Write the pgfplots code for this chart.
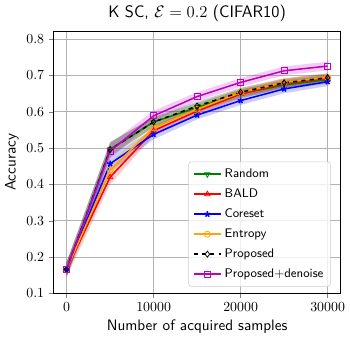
\documentclass[border=0pt,11pt]{standalone}
\usepackage{pgfplots}
\pgfplotsset{compat=1.18}
\definecolor{mgreen}{rgb}{0,0.5,0}
\definecolor{morange}{rgb}{1,0.647,0}
\definecolor{mmag}{rgb}{0.75,0,0.75}
\begin{document}
\begin{tikzpicture}
\begin{axis}[
  scale only axis, width=207pt, height=189pt,
  xmin=-1500, xmax=31500, ymin=0.1, ymax=0.822,
  xtick={0,10000,20000,30000}, ytick={0.1,0.2,0.3,0.4,0.5,0.6,0.7,0.8},
  scaled x ticks=false,
  x tick label style={/pgf/number format/.cd,set thousands separator={},fixed},
  y tick label style={/pgf/number format/.cd,fixed,fixed zerofill,precision=1},
  tick label style={font=\small},
  tick align=outside, tick pos=left, major tick length=3pt,
  grid=major, grid style={black!30, line width=0.5pt},
  axis line style={black, line width=0.6pt},
  title={K SC, $\mathcal{E}=0.2$ (CIFAR10)},
  title style={font=\sffamily\large, yshift=-3pt},
  xlabel={Number of acquired samples}, ylabel={Accuracy},
  label style={font=\sffamily},
  xlabel style={yshift=2pt}, ylabel style={yshift=-2pt},
  legend style={font=\sffamily\footnotesize, at={(0.965,0.025)}, anchor=south east,
    draw=black!20, rounded corners=2pt, fill=white, fill opacity=0.8, text opacity=1,
    row sep=2.5pt, inner sep=3pt},
  legend cell align=left,
  legend image code/.code={
    \draw[mark repeat=2,mark phase=2] plot coordinates {(0cm,0cm) (0.35cm,0cm) (0.7cm,0cm)};},
  every axis plot/.append style={line width=1.1pt, mark size=2.2pt},
]
% bands
\addplot[forget plot, draw=none, fill=mgreen, fill opacity=0.2] coordinates {(0,0.186) (5000,0.517) (10000,0.584) (15000,0.624) (20000,0.662) (25000,0.686) (30000,0.701) (30000,0.677) (25000,0.662) (20000,0.638) (15000,0.600) (10000,0.560) (5000,0.477) (0,0.146)};
\addplot[forget plot, draw=none, fill=red, fill opacity=0.2] coordinates {(0,0.186) (5000,0.44) (10000,0.562) (15000,0.614) (20000,0.661) (25000,0.690) (30000,0.704) (30000,0.680) (25000,0.666) (20000,0.637) (15000,0.590) (10000,0.534) (5000,0.40) (0,0.146)};
\addplot[forget plot, draw=none, fill=blue, fill opacity=0.2] coordinates {(0,0.186) (5000,0.477) (10000,0.552) (15000,0.603) (20000,0.643) (25000,0.675) (30000,0.695) (30000,0.671) (25000,0.651) (20000,0.619) (15000,0.579) (10000,0.524) (5000,0.437) (0,0.146)};
\addplot[forget plot, draw=none, fill=morange, fill opacity=0.2] coordinates {(0,0.186) (5000,0.46) (10000,0.570) (15000,0.619) (20000,0.665) (25000,0.693) (30000,0.707) (30000,0.683) (25000,0.669) (20000,0.641) (15000,0.595) (10000,0.542) (5000,0.42) (0,0.146)};
\addplot[forget plot, draw=none, fill=black, fill opacity=0.2] coordinates {(0,0.186) (5000,0.516) (10000,0.586) (15000,0.628) (20000,0.666) (25000,0.692) (30000,0.706) (30000,0.682) (25000,0.668) (20000,0.642) (15000,0.604) (10000,0.558) (5000,0.476) (0,0.146)};
\addplot[forget plot, draw=none, fill=mmag, fill opacity=0.2] coordinates {(0,0.186) (5000,0.512) (10000,0.603) (15000,0.654) (20000,0.693) (25000,0.725) (30000,0.738) (30000,0.714) (25000,0.701) (20000,0.669) (15000,0.630) (10000,0.575) (5000,0.472) (0,0.146)};
% means
\addplot[mgreen, mark=triangle, mark options={rotate=180, solid, fill=white, line width=0.55pt}] coordinates {(0,0.166) (5000,0.497) (10000,0.572) (15000,0.612) (20000,0.650) (25000,0.674) (30000,0.689)};
\addlegendentry{Random}
\addplot[red, mark=triangle, mark options={solid, fill=white, line width=0.55pt}] coordinates {(0,0.166) (5000,0.42) (10000,0.548) (15000,0.602) (20000,0.649) (25000,0.678) (30000,0.692)};
\addlegendentry{BALD}
\addplot[blue, mark=star, mark options={solid}] coordinates {(0,0.166) (5000,0.457) (10000,0.538) (15000,0.591) (20000,0.631) (25000,0.663) (30000,0.683)};
\addlegendentry{Coreset}
\addplot[morange, mark=o, mark options={solid, fill=white, line width=0.55pt}] coordinates {(0,0.166) (5000,0.44) (10000,0.556) (15000,0.607) (20000,0.653) (25000,0.681) (30000,0.695)};
\addlegendentry{Entropy}
\addplot[black, dashed, mark=diamond, mark options={solid, fill=white, line width=0.55pt}] coordinates {(0,0.166) (5000,0.496) (10000,0.572) (15000,0.616) (20000,0.654) (25000,0.680) (30000,0.694)};
\addlegendentry{Proposed}
\addplot[mmag, mark=square, mark options={solid, fill=white, line width=0.55pt}] coordinates {(0,0.166) (5000,0.492) (10000,0.589) (15000,0.642) (20000,0.681) (25000,0.713) (30000,0.726)};
\addlegendentry{Proposed+denoise}
\end{axis}
\end{tikzpicture}
\end{document}
